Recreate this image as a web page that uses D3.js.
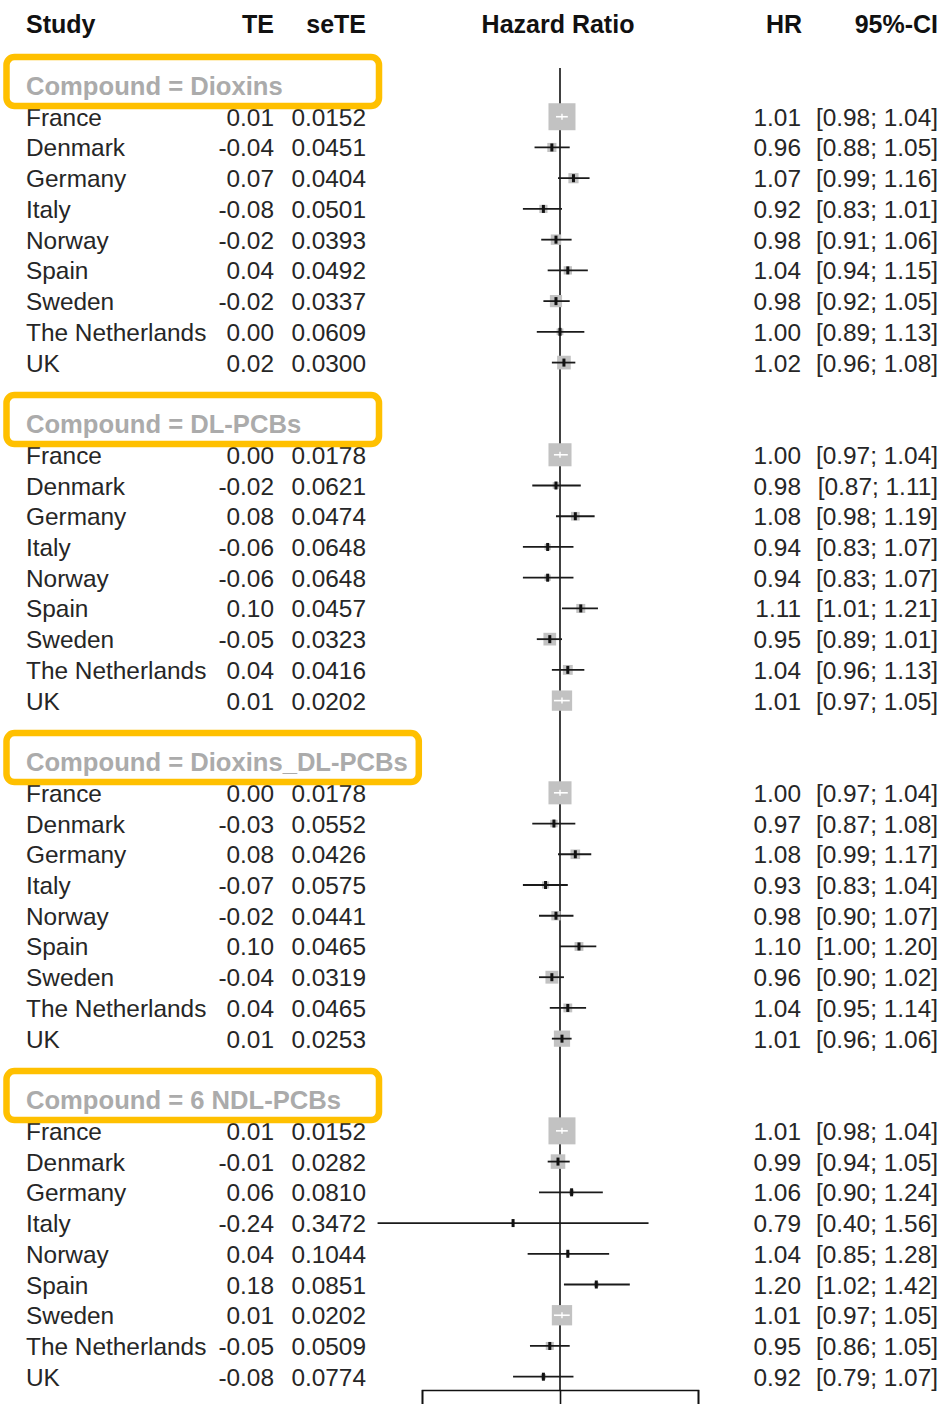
<!DOCTYPE html>
<html>
<head>
<meta charset="utf-8">
<script src="https://cdn.jsdelivr.net/npm/d3@7"></script>
<style>
  html, body { margin: 0; padding: 0; background: #fff; }
  svg { display: block; }
  text { font-family: "Liberation Sans", Arial, sans-serif; }
</style>
</head>
<body>
<svg id="chart" width="944" height="1404"></svg>
<script>
// ---------------- DATA ----------------
const compounds = ["Dioxins", "DL-PCBs", "Dioxins_DL-PCBs", "6 NDL-PCBs"];
const studies = ["France", "Denmark", "Germany", "Italy", "Norway", "Spain", "Sweden", "The Netherlands", "UK"];

const teDioxins      = [0.01, -0.04, 0.07, -0.08, -0.02, 0.04, -0.02, 0.00, 0.02];
const seDioxins      = [0.0152, 0.0451, 0.0404, 0.0501, 0.0393, 0.0492, 0.0337, 0.0609, 0.0300];
const hrDioxins      = [1.01, 0.96, 1.07, 0.92, 0.98, 1.04, 0.98, 1.00, 1.02];
const loDioxins      = [0.98, 0.88, 0.99, 0.83, 0.91, 0.94, 0.92, 0.89, 0.96];
const hiDioxins      = [1.04, 1.05, 1.16, 1.01, 1.06, 1.15, 1.05, 1.13, 1.08];

const teDLPCB        = [0.00, -0.02, 0.08, -0.06, -0.06, 0.10, -0.05, 0.04, 0.01];
const seDLPCB        = [0.0178, 0.0621, 0.0474, 0.0648, 0.0648, 0.0457, 0.0323, 0.0416, 0.0202];
const hrDLPCB        = [1.00, 0.98, 1.08, 0.94, 0.94, 1.11, 0.95, 1.04, 1.01];
const loDLPCB        = [0.97, 0.87, 0.98, 0.83, 0.83, 1.01, 0.89, 0.96, 0.97];
const hiDLPCB        = [1.04, 1.11, 1.19, 1.07, 1.07, 1.21, 1.01, 1.13, 1.05];

const teDioxDL       = [0.00, -0.03, 0.08, -0.07, -0.02, 0.10, -0.04, 0.04, 0.01];
const seDioxDL       = [0.0178, 0.0552, 0.0426, 0.0575, 0.0441, 0.0465, 0.0319, 0.0465, 0.0253];
const hrDioxDL       = [1.00, 0.97, 1.08, 0.93, 0.98, 1.10, 0.96, 1.04, 1.01];
const loDioxDL       = [0.97, 0.87, 0.99, 0.83, 0.90, 1.00, 0.90, 0.95, 0.96];
const hiDioxDL       = [1.04, 1.08, 1.17, 1.04, 1.07, 1.20, 1.02, 1.14, 1.06];

const teNDL          = [0.01, -0.01, 0.06, -0.24, 0.04, 0.18, 0.01, -0.05, -0.08];
const seNDL          = [0.0152, 0.0282, 0.0810, 0.3472, 0.1044, 0.0851, 0.0202, 0.0509, 0.0774];
const hrNDL          = [1.01, 0.99, 1.06, 0.79, 1.04, 1.20, 1.01, 0.95, 0.92];
const loNDL          = [0.98, 0.94, 0.90, 0.40, 0.85, 1.02, 0.97, 0.86, 0.79];
const hiNDL          = [1.04, 1.05, 1.24, 1.56, 1.28, 1.42, 1.05, 1.05, 1.07];

const axisTicks = [0.5, 1, 2];
const headers = { study: "Study", te: "TE", se: "seTE", plot: "Hazard Ratio", hr: "HR", ci: "95%-CI" };

const groupTE = [teDioxins, teDLPCB, teDioxDL, teNDL];
const groupSE = [seDioxins, seDLPCB, seDioxDL, seNDL];
const groupHR = [hrDioxins, hrDLPCB, hrDioxDL, hrNDL];
const groupLo = [loDioxins, loDLPCB, loDioxDL, loNDL];
const groupHi = [hiDioxins, hiDLPCB, hiDioxDL, hiNDL];

// ---------------- BUILD ROWS ----------------
const rows = [];
compounds.forEach((c, g) => {
  rows.push({ type: "header", label: "Compound = " + c, idx: g * 11 });
  studies.forEach((s, i) => {
    rows.push({
      type: "study", study: s, idx: g * 11 + 1 + i,
      te: groupTE[g][i], se: groupSE[g][i], hr: groupHR[g][i],
      lo: groupLo[g][i], hi: groupHi[g][i]
    });
  });
});
const studyRows = rows.filter(r => r.type === "study");

// ---------------- SCALES ----------------
const svg = d3.select("#chart");
const y = d3.scaleLinear().domain([0, 42]).range([86, 1376.7]);
const x = d3.scaleLog().domain([0.5, 2]).range([422, 698]);
const maxW = d3.max(studyRows, r => 1 / (r.se * r.se));
const sz = d3.scaleSqrt().domain([0, maxW]).range([0, 27]);

const hy = s => s.replace(/\u2212/g, "-");
const f2 = d3.format(".2f"), f4 = d3.format(".4f");
const fmt2 = v => { const s = hy(f2(v)); return s === "-0.00" ? "0.00" : s; };

const colX = { study: 26, te: 274, se: 366, hr: 801, ci: 938 };
const FS = 24.4;
const txtCol = "#262626";

// ---------------- HEADER ----------------
const hdr = svg.append("g").attr("font-weight", "bold").attr("font-size", 25).attr("fill", "#111");
hdr.append("text").attr("x", colX.study).attr("y", 33).text(headers.study);
hdr.append("text").attr("x", colX.te).attr("y", 33).attr("text-anchor", "end").text(headers.te);
hdr.append("text").attr("x", colX.se).attr("y", 33).attr("text-anchor", "end").text(headers.se);
hdr.append("text").attr("x", x(1) - 2).attr("y", 33).attr("text-anchor", "middle").text(headers.plot);
hdr.append("text").attr("x", colX.hr + 1).attr("y", 33).attr("text-anchor", "end").text(headers.hr);
hdr.append("text").attr("x", colX.ci).attr("y", 33).attr("text-anchor", "end").text(headers.ci);

// ---------------- AXIS + REFERENCE LINE ----------------
const axisY = 1390;
const axis = d3.axisBottom(x).tickValues(axisTicks).tickSize(30).tickSizeOuter(30).tickFormat(() => "");
const ax = svg.append("g").attr("transform", `translate(0,${axisY})`).call(axis);
ax.selectAll("path, line").attr("stroke", "#111").attr("stroke-width", 1.6);
ax.selectAll("text").remove();

svg.append("line")
  .attr("x1", x(1)).attr("x2", x(1))
  .attr("y1", 68).attr("y2", axisY)
  .attr("stroke", "#111").attr("stroke-width", 1.6);

// ---------------- STUDY TEXT ----------------
const tg = svg.append("g").attr("font-size", FS).attr("fill", txtCol);
studyRows.forEach(r => {
  const by = y(r.idx) + 9;
  tg.append("text").attr("x", colX.study).attr("y", by).text(r.study);
  tg.append("text").attr("x", colX.te).attr("y", by).attr("text-anchor", "end").text(fmt2(r.te));
  tg.append("text").attr("x", colX.se).attr("y", by).attr("text-anchor", "end").text(f4(r.se));
  tg.append("text").attr("x", colX.hr).attr("y", by).attr("text-anchor", "end").text(f2(r.hr));
  tg.append("text").attr("x", colX.ci).attr("y", by).attr("text-anchor", "end")
    .text("[" + f2(r.lo) + "; " + f2(r.hi) + "]");
});

// ---------------- FOREST MARKS ----------------
const mg = svg.append("g");
studyRows.forEach(r => {
  const cy = y(r.idx);
  const cx = x(r.hr), x1 = x(r.lo), x2 = x(r.hi);
  const s = sz(1 / (r.se * r.se));
  const inside = x1 >= cx - s / 2 && x2 <= cx + s / 2;
  mg.append("rect").attr("x", cx - s / 2).attr("y", cy - s / 2)
    .attr("width", s).attr("height", s).attr("fill", "#c2c2c2");
  if (inside) {
    mg.append("line").attr("x1", x1).attr("x2", x2).attr("y1", cy).attr("y2", cy)
      .attr("stroke", "#fff").attr("stroke-width", 1.6);
    mg.append("line").attr("x1", cx).attr("x2", cx).attr("y1", cy - 3).attr("y2", cy + 3)
      .attr("stroke", "#fff").attr("stroke-width", 1.4);
  } else {
    mg.append("line").attr("x1", x1).attr("x2", x2).attr("y1", cy).attr("y2", cy)
      .attr("stroke", "#1a1a1a").attr("stroke-width", 1.8);
    mg.append("rect").attr("x", cx - 1.5).attr("y", cy - 4)
      .attr("width", 3).attr("height", 8).attr("fill", "#111");
  }
});

// ---------------- GROUP HEADERS (boxed) ----------------
rows.filter(r => r.type === "header").forEach(r => {
  const cy = y(r.idx);
  const g = svg.append("g");
  const box = g.append("rect");
  const t = g.append("text").attr("x", colX.study).attr("y", cy + 9)
    .attr("font-size", 25.6).attr("font-weight", "bold").attr("fill", "#ababab").text(r.label);
  const w = t.node().getComputedTextLength();
  const right = Math.max(379, colX.study + w + 11);
  box.attr("x", 6.5).attr("y", cy - 29).attr("width", right - 6.5).attr("height", 49)
    .attr("rx", 8).attr("fill", "#fff").attr("stroke", "#FFC000").attr("stroke-width", 6.5);
});
</script>
</body>
</html>
